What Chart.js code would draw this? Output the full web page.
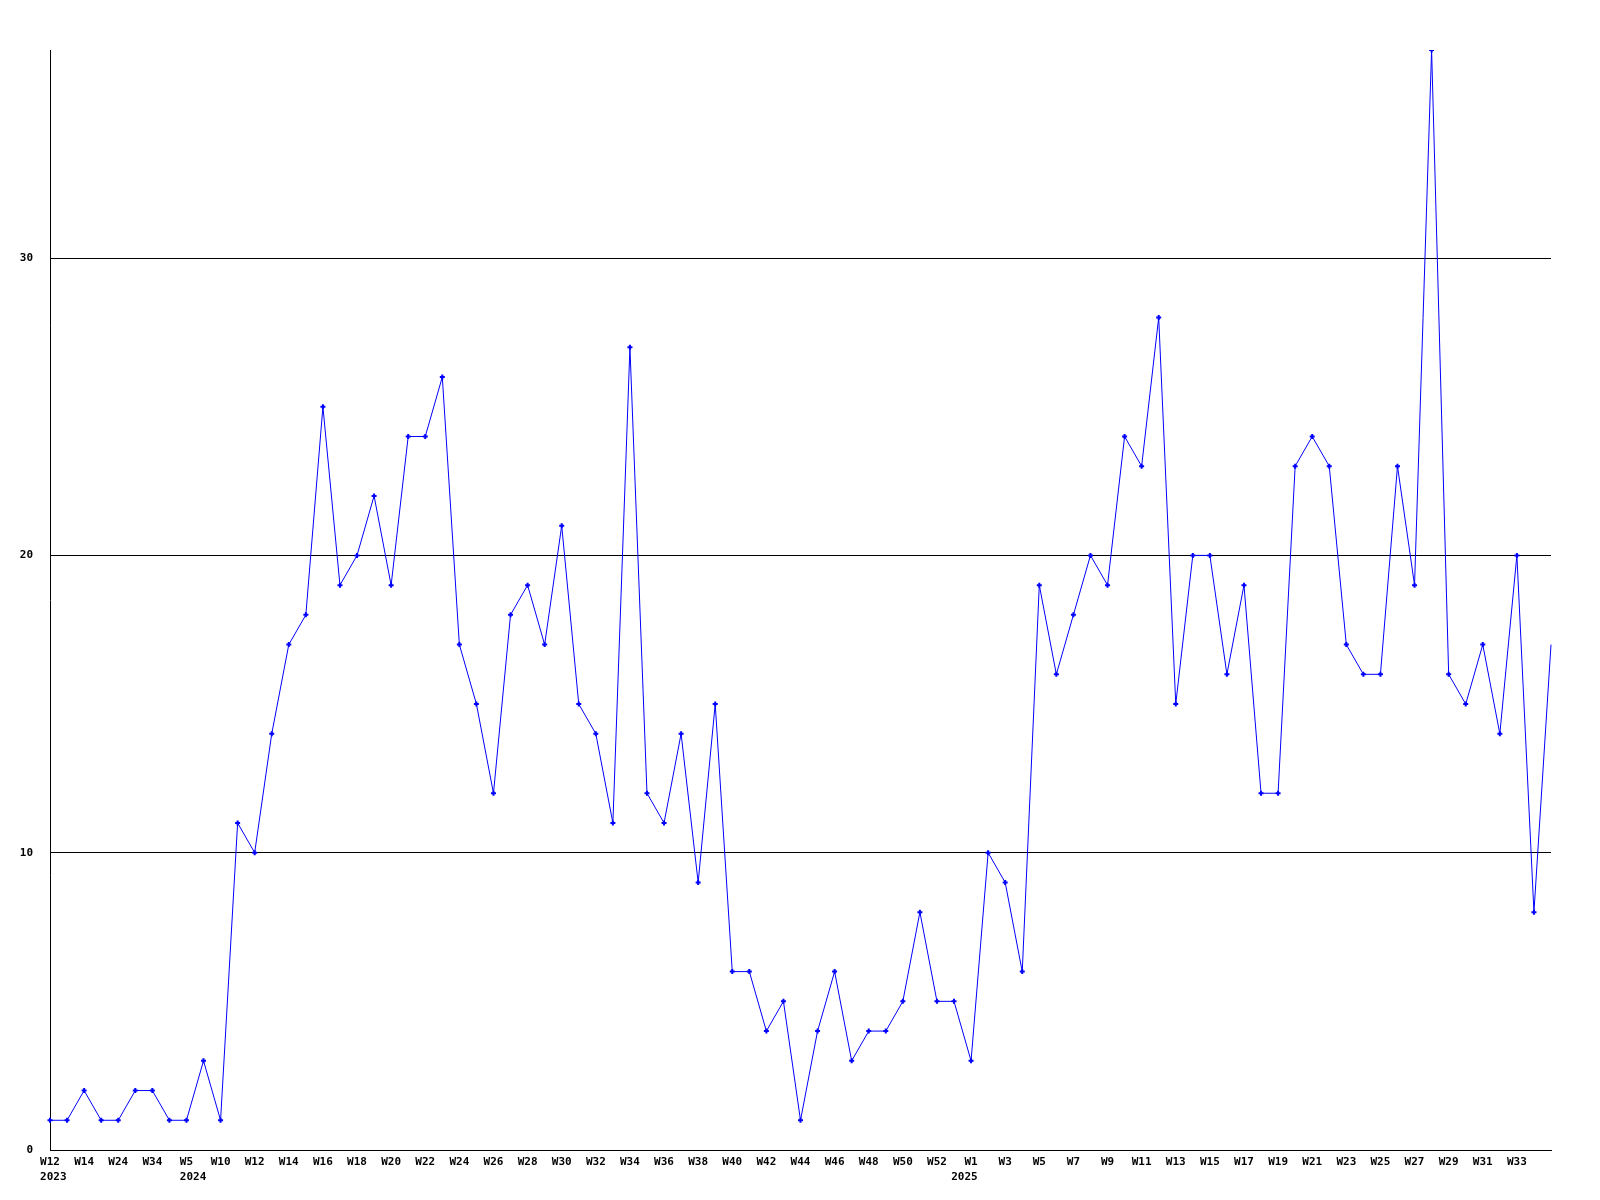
<!DOCTYPE html>
<html>
<head>
<meta charset="utf-8">
<script src="https://cdn.jsdelivr.net/npm/chart.js@4.4.1/dist/chart.umd.min.js"></script>
<style>
    html, body { margin: 0; padding: 0; background: #fff; }
    canvas { display: block; }
</style>
</head>
<body>
<canvas id="weekChart" width="1600" height="1200"></canvas>
<script>
// Daten: eine Kategorie pro Woche, nur jede zweite ist beschriftet
// (Leerzeichen im Jahr schieben es unter den Wochennamen wie im Original)
const weeks = [
    ['W12', ' 2023'], '', 'W14', '', 'W24', '', 'W34', '',
    ['W5', '  2024'], '', 'W10', '', 'W12', '', 'W14', '', 'W16', '', 'W18', '',
    'W20', '', 'W22', '', 'W24', '', 'W26', '', 'W28', '', 'W30', '', 'W32', '',
    'W34', '', 'W36', '', 'W38', '', 'W40', '', 'W42', '', 'W44', '', 'W46', '',
    'W48', '', 'W50', '', 'W52', '',
    ['W1', '2025  '], '', 'W3', '', 'W5', '', 'W7', '', 'W9', '', 'W11', '',
    'W13', '', 'W15', '', 'W17', '', 'W19', '', 'W21', '', 'W23', '', 'W25', '',
    'W27', '', 'W29', '', 'W31', '', 'W33', '', ''
];

const counts = [
    1, 1, 2, 1, 1, 2, 2, 1, 1, 3,
    1, 11, 10, 14, 17, 18, 25, 19, 20, 22,
    19, 24, 24, 26, 17, 15, 12, 18, 19, 17,
    21, 15, 14, 11, 27, 12, 11, 14, 9, 15,
    6, 6, 4, 5, 1, 4, 6, 3, 4, 4,
    5, 8, 5, 5, 3, 10, 9, 6, 19, 16,
    18, 20, 19, 24, 23, 28, 15, 20, 20, 16,
    19, 12, 12, 23, 24, 23, 17, 16, 16, 23,
    19, 37, 16, 15, 17, 14, 20, 8, 17
];

const yTicks = [0, 10, 20, 30];
const yMax = 37;

const font = { family: 'DejaVu Sans Mono', size: 11, weight: 'bold', lineHeight: 1.35 };

const ctx = document.getElementById('weekChart').getContext('2d');
const weekChart = new Chart(ctx, {
    type: 'line',
    data: {
        labels: weeks,
        datasets: [{
            data: counts,
            borderColor: '#0000ff',
            backgroundColor: '#0000ff',
            borderWidth: 1,
            tension: 0,
            fill: false,
            pointStyle: 'cross',
            pointBorderWidth: 2,
            pointRadius: (c) => c.dataIndex === counts.length - 1 ? 0 : 2.5, // letzter Punkt ohne Marker
            pointBorderColor: '#0000ff',
            pointBackgroundColor: '#0000ff'
        }]
    },
    options: {
        responsive: false,
        animation: false,
        events: [],
        layout: {
            padding: { top: 50, right: 49, left: 0, bottom: 0 }
        },
        plugins: {
            legend: { display: false },
            tooltip: { enabled: false }
        },
        scales: {
            x: {
                type: 'category',
                offset: false,
                grid: { display: false, drawTicks: false },
                border: { display: true, color: '#000', width: 1 },
                ticks: {
                    autoSkip: false,
                    maxRotation: 0,
                    minRotation: 0,
                    padding: 5,
                    color: '#000',
                    font: font
                },
                afterFit: function(scale) {
                    scale.height = 50;
                }
            },
            y: {
                min: 0,
                max: yMax,
                afterBuildTicks: function(scale) {
                    scale.ticks = yTicks.map(v => ({ value: v }));
                },
                grid: {
                    color: '#000',
                    lineWidth: 1,
                    drawTicks: false
                },
                border: { display: true, color: '#000', width: 1 },
                ticks: {
                    padding: 17,
                    color: '#000',
                    font: font
                },
                afterFit: function(scale) {
                    scale.width = 50;
                }
            }
        }
    }
});
</script>
</body>
</html>
